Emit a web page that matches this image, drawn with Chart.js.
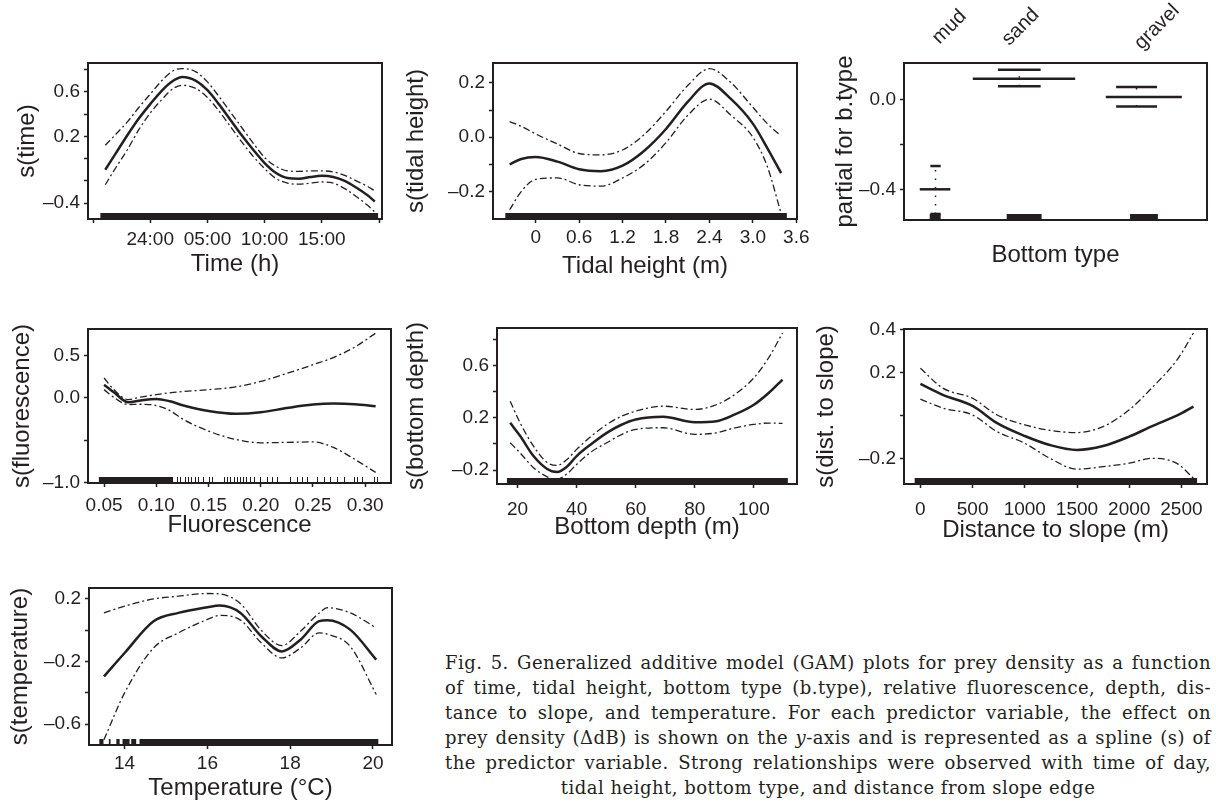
<!DOCTYPE html>
<html>
<head>
<meta charset="utf-8">
<script src="https://cdn.jsdelivr.net/npm/chart.js"></script>
<style>
  body { margin: 0; background: #fff; width: 1216px; height: 806px; position: relative; overflow: hidden; }
  #caption { position: absolute; left: 445px; top: 650px; width: 766px; font-family: "DejaVu Serif", serif;
             font-size: 18px; letter-spacing: 0.5px; line-height: 25px; color: #231f20; }
  #caption .ln { text-align: justify; text-align-last: justify; }
  #caption .last { text-align: center; text-align-last: center; }
</style>
</head>
<body>

<div id="caption">
  <div class="ln">Fig. 5. Generalized additive model (GAM) plots for prey density as a function</div>
  <div class="ln">of time, tidal height, bottom type (b.type), relative fluorescence, depth, dis-</div>
  <div class="ln">tance to slope, and temperature. For each predictor variable, the effect on</div>
  <div class="ln">prey density (ΔdB) is shown on the <i>y</i>-axis and is represented as a spline (s) of</div>
  <div class="ln">the predictor variable. Strong relationships were observed with time of day,</div>
  <div class="ln last">tidal height, bottom type, and distance from slope edge</div>
</div>

<script>
// ---- data ----
// time of day, hours after midnight (24:00 = 0)
const timeX     = [-3.93, -3, -2, -1, 0, 1, 2, 2.8, 4, 5, 6, 7, 8, 9, 10, 11, 12, 13, 14, 15, 16, 17, 18, 19, 19.63];
const timeFit   = [-0.10, 0.05, 0.21, 0.36, 0.49, 0.61, 0.70, 0.735, 0.70, 0.615, 0.49, 0.35, 0.21, 0.08, -0.04, -0.13, -0.175, -0.18, -0.165, -0.155, -0.165, -0.20, -0.26, -0.33, -0.385];
const timeUpper = [0.12, 0.22, 0.33, 0.46, 0.58, 0.70, 0.79, 0.81, 0.78, 0.69, 0.56, 0.42, 0.28, 0.14, 0.01, -0.07, -0.11, -0.115, -0.11, -0.11, -0.12, -0.15, -0.20, -0.25, -0.29];
const timeLower = [-0.235, -0.08, 0.08, 0.26, 0.41, 0.53, 0.63, 0.66, 0.63, 0.55, 0.43, 0.29, 0.15, 0.02, -0.09, -0.18, -0.22, -0.23, -0.22, -0.21, -0.22, -0.27, -0.34, -0.42, -0.48];
const timeTicks  = [-5, 0, 5, 10, 15, 20];
const timeLabels = ['', '24:00', '05:00', '10:00', '15:00', ''];

// tidal height (m)
const tideX     = [-0.36, -0.2, 0, 0.3, 0.6, 0.9, 1.2, 1.5, 1.8, 2.1, 2.4, 2.7, 3.0, 3.2, 3.39];
const tideFit   = [-0.10, -0.08, -0.073, -0.09, -0.118, -0.125, -0.105, -0.05, 0.03, 0.13, 0.198, 0.14, 0.05, -0.04, -0.132];
const tideUpper = [0.057, 0.04, 0.012, -0.025, -0.06, -0.065, -0.047, 0.01, 0.095, 0.19, 0.252, 0.20, 0.11, 0.05, 0.005];
const tideLower = [-0.267, -0.20, -0.155, -0.15, -0.175, -0.18, -0.15, -0.10, -0.02, 0.08, 0.14, 0.08, 0.0, -0.108, -0.28];
const tideTicks  = [0, 0.6, 1.2, 1.8, 2.4, 3.0, 3.6];
const tideLabels = ['0', '0.6', '1.2', '1.8', '2.4', '3.0', '3.6'];

// bottom type (factor, x = share of samples)
const btypeNames    = ['mud', 'sand', 'gravel'];
const btypeStart    = [5.2, 22.7, 66.6];
const btypeEnd      = [15.3, 56.5, 91.7];
const btypeMean     = [-0.40, 0.094, 0.012];
const btypeUpper    = [-0.296, 0.134, 0.057];
const btypeLower    = [-0.51, 0.060, -0.030];
const btypeCiStart  = [8.7, 31.0, 70.0];
const btypeCiEnd    = [12.1, 45.1, 83.5];
const btypeRugStart = [8.5, 33.9, 74.6];
const btypeRugEnd   = [12.1, 45.4, 83.8];
const btypeLabelAt  = [15, 38.5, 83.5];

// relative fluorescence
const fluoX     = [0.05, 0.06, 0.073, 0.085, 0.10, 0.113, 0.126, 0.15, 0.176, 0.20, 0.225, 0.25, 0.27, 0.29, 0.31];
const fluoFit   = [0.156, 0.06, -0.052, -0.03, -0.012, -0.04, -0.09, -0.155, -0.188, -0.17, -0.12, -0.079, -0.067, -0.075, -0.099];
const fluoUpper = [0.235, 0.09, -0.02, 0.01, 0.039, 0.06, 0.075, 0.098, 0.13, 0.195, 0.29, 0.392, 0.48, 0.60, 0.765];
const fluoLower = [0.098, 0.0, -0.078, -0.075, -0.09, -0.15, -0.255, -0.392, -0.49, -0.53, -0.525, -0.52, -0.588, -0.725, -0.88];
const fluoTicks  = [0.05, 0.10, 0.15, 0.20, 0.25, 0.30];
const fluoLabels = ['0.05', '0.10', '0.15', '0.20', '0.25', '0.30'];
const fluoRug    = [0.12, 0.123, 0.127, 0.13, 0.133, 0.137, 0.14, 0.145, 0.15, 0.153,
                    0.165, 0.168, 0.171, 0.174, 0.177, 0.18, 0.183, 0.186, 0.19, 0.194,
                    0.1994, 0.2058, 0.2106, 0.2154, 0.228, 0.2347, 0.2394, 0.2442, 0.2538, 0.2602,
                    0.2666, 0.273, 0.2794, 0.289, 0.2922, 0.297, 0.3082, 0.3114];

// bottom depth (m)
const depthX     = [17.5, 20.9, 25.4, 29.9, 33.3, 36.7, 40, 45, 50.2, 55, 60, 69.3, 80, 87.3, 93, 100, 105, 109.7];
const depthFit   = [0.162, 0.06, -0.093, -0.19, -0.216, -0.175, -0.093, 0.0, 0.085, 0.145, 0.187, 0.208, 0.166, 0.174, 0.22, 0.30, 0.39, 0.493];
const depthUpper = [0.327, 0.16, -0.017, -0.14, -0.165, -0.12, -0.042, 0.06, 0.149, 0.21, 0.251, 0.289, 0.264, 0.30, 0.37, 0.506, 0.66, 0.85];
const depthLower = [0.009, -0.07, -0.182, -0.25, -0.27, -0.23, -0.157, -0.06, 0.009, 0.07, 0.111, 0.124, 0.073, 0.085, 0.12, 0.149, 0.16, 0.157];
const depthTicks  = [20, 40, 60, 80, 100];
const depthLabels = ['20', '40', '60', '80', '100'];

// distance to slope (m)
const distX     = [0, 215, 500, 735, 1000, 1240, 1500, 1750, 2000, 2220, 2460, 2615];
const distFit   = [0.147, 0.096, 0.044, -0.036, -0.096, -0.138, -0.161, -0.143, -0.099, -0.05, 0.0, 0.041];
const distUpper = [0.22, 0.127, 0.08, 0.002, -0.044, -0.07, -0.08, -0.052, 0.026, 0.13, 0.26, 0.384];
const distLower = [0.076, 0.034, 0.002, -0.076, -0.13, -0.20, -0.251, -0.239, -0.223, -0.20, -0.225, -0.293];
const distTicks  = [0, 500, 1000, 1500, 2000, 2500];
const distLabels = ['0', '500', '1000', '1500', '2000', '2500'];

// temperature (°C)
const tempX     = [13.5, 14, 14.7, 15.3, 16, 16.3, 16.8, 17.3, 17.8, 18.25, 18.7, 18.9, 19.45, 20.08];
const tempFit   = [-0.295, -0.145, 0.058, 0.111, 0.147, 0.158, 0.111, -0.038, -0.135, -0.06, 0.058, 0.064, 0.004, -0.188];
const tempUpper = [0.111, 0.154, 0.20, 0.218, 0.235, 0.232, 0.17, 0.0, -0.098, -0.006, 0.11, 0.144, 0.111, 0.015];
const tempLower = [-0.70, -0.40, -0.113, -0.017, 0.069, 0.095, 0.065, -0.08, -0.177, -0.113, -0.017, -0.025, -0.103, -0.41];
const tempTicks  = [14, 16, 18, 20];
const tempLabels = ['14', '16', '18', '20'];

// ---- drawing ----
const TXT = '#231f20';
const FAMILY = '"Liberation Sans", Arial, sans-serif';
const TICK_FONT = { family: FAMILY, size: 19 };
const TITLE_FONT = { family: FAMILY, size: 24 };
const M = '\u2013';

function xy(xs, ys) { return xs.map((x, i) => ({ x: x, y: ys[i] })); }

function fitLine(xs, ys) {
  return { data: xy(xs, ys), borderColor: TXT, borderWidth: 2.5, pointRadius: 0,
           cubicInterpolationMode: 'monotone', fill: false };
}
function ciLine(xs, ys) {
  return { data: xy(xs, ys), borderColor: TXT, borderWidth: 1.3, borderDash: [7, 3, 2, 3],
           pointRadius: 0, cubicInterpolationMode: 'monotone', fill: false };
}
function gamSets(xs, fit, up, lo) { return [ciLine(xs, up), ciLine(xs, lo), fitLine(xs, fit)]; }

// rug, frame and rotated category labels
function decor(p) {
  return {
    id: 'decor',
    afterDatasetsDraw(chart) {
      const ctx = chart.ctx, a = chart.chartArea, xs = chart.scales.x;
      ctx.save();
      ctx.fillStyle = TXT;
      ctx.strokeStyle = TXT;
      (p.rugBands || []).forEach(b => {
        const x0 = xs.getPixelForValue(b[0]), x1 = xs.getPixelForValue(b[1]);
        ctx.fillRect(x0, a.bottom - 6, x1 - x0, 6);
      });
      ctx.lineWidth = 1;
      (p.rugTicks || []).forEach(v => {
        const x = Math.round(xs.getPixelForValue(v)) + 0.5;
        ctx.beginPath(); ctx.moveTo(x, a.bottom - 6); ctx.lineTo(x, a.bottom); ctx.stroke();
      });
      ctx.lineWidth = 2;
      ctx.strokeRect(a.left, a.top, a.right - a.left, a.bottom - a.top);
      if (p.topLabels) {
        ctx.font = '20px ' + FAMILY;
        ctx.textAlign = 'center';
        ctx.textBaseline = 'middle';
        p.topLabels.forEach((name, i) => {
          ctx.save();
          ctx.translate(xs.getPixelForValue(p.topLabelAt[i]), a.top - 36);
          ctx.rotate(-Math.PI / 4);
          ctx.fillText(name, 0, 0);
          ctx.restore();
        });
      }
      ctx.restore();
    }
  };
}

function gamPanel(p) {
  const padTop = p.padTop || 12;
  const padRight = Math.min(24, 1216 - p.box[2]);
  const left = Math.round(p.yTitleX - 14.4);
  const top = p.box[1] - padTop;
  const bottom = Math.round(p.xTitleY + 14.4);
  const width = p.box[2] + padRight - left;
  const height = bottom - top;
  const yw = p.box[0] - left;
  const xh = bottom - p.box[3];
  const xPad = p.xTickY ? p.xTickY - p.box[3] - 4 - 11.4 : 0;

  const cv = document.createElement('canvas');
  cv.width = width; cv.height = height;
  cv.style.cssText = 'position:absolute;left:' + left + 'px;top:' + top + 'px;width:' + width + 'px;height:' + height + 'px';
  document.body.appendChild(cv);

  const hasX = p.xTicks.length > 0;
  new Chart(cv, {
    type: 'line',
    data: { datasets: p.datasets },
    options: {
      responsive: false,
      animation: false,
      devicePixelRatio: 1,
      layout: { padding: { top: padTop, right: padRight, left: 0, bottom: 0 } },
      plugins: { legend: { display: false }, tooltip: { enabled: false } },
      scales: {
        x: {
          type: 'linear', min: p.xMin, max: p.xMax,
          afterBuildTicks: s => { s.ticks = p.xTicks.map(v => ({ value: v })); },
          afterFit: s => { s.height = xh; s.paddingLeft = 0; s.paddingRight = 0; },
          ticks: { display: hasX, autoSkip: false, maxRotation: 0, minRotation: 0, padding: xPad,
                   font: TICK_FONT, color: TXT, callback: (v, i) => p.xLabels[i] },
          grid: { display: hasX, drawOnChartArea: false, tickLength: 4, tickWidth: 1.5, tickColor: TXT },
          border: { display: false },
          title: { display: true, text: p.xTitle, font: TITLE_FONT, color: TXT, padding: 0 }
        },
        y: {
          type: 'linear', min: p.yMin, max: p.yMax,
          afterBuildTicks: s => { s.ticks = p.yTicks.map(v => ({ value: v })); },
          afterFit: s => { s.width = yw; s.paddingTop = 0; s.paddingBottom = 0; },
          ticks: { autoSkip: false, padding: 4, font: TICK_FONT, color: TXT,
                   callback: (v, i) => p.yLabels[i] },
          grid: { drawOnChartArea: false, tickLength: 4, tickWidth: 1.5, tickColor: TXT },
          border: { display: false },
          title: { display: true, text: p.yTitle, font: TITLE_FONT, color: TXT, padding: 0 }
        }
      }
    },
    plugins: [decor(p)]
  });
}

// bottom type segments
const btypeSets = [];
btypeNames.forEach((n, i) => {
  const mid = (btypeCiStart[i] + btypeCiEnd[i]) / 2;
  btypeSets.push({ data: [{ x: mid, y: btypeLower[i] }, { x: mid, y: btypeUpper[i] }], borderColor: TXT,
                   borderWidth: 1.5, borderDash: [1.5, 7], pointRadius: 0 });
  btypeSets.push({ data: [{ x: btypeStart[i], y: btypeMean[i] }, { x: btypeEnd[i], y: btypeMean[i] }],
                   borderColor: TXT, borderWidth: 2.5, pointRadius: 0 });
  btypeSets.push({ data: [{ x: btypeCiStart[i], y: btypeUpper[i] }, { x: btypeCiEnd[i], y: btypeUpper[i] }],
                   borderColor: TXT, borderWidth: 2.5, pointRadius: 0 });
  btypeSets.push({ data: [{ x: btypeCiStart[i], y: btypeLower[i] }, { x: btypeCiEnd[i], y: btypeLower[i] }],
                   borderColor: TXT, borderWidth: 2.5, pointRadius: 0 });
});

gamPanel({
  box: [88, 63, 382, 219], yTitleX: 27, xTickY: 240, xTitleY: 265,
  xMin: -5.44, xMax: 20.26, yMin: -0.543, yMax: 0.86,
  xTicks: timeTicks, xLabels: timeLabels,
  yTicks: [-0.4, -0.2, 0, 0.2, 0.4, 0.6, 0.8], yLabels: [M + '0.4', '', '', '0.2', '', '0.6', ''],
  xTitle: 'Time (h)', yTitle: 's(time)',
  datasets: gamSets(timeX, timeFit, timeUpper, timeLower),
  rugBands: [[-4.36, 19.92]]
});

gamPanel({
  box: [493, 63, 797, 219], yTitleX: 416, xTickY: 238, xTitleY: 267,
  xMin: -0.59, xMax: 3.61, yMin: -0.301, yMax: 0.273,
  xTicks: tideTicks, xLabels: tideLabels,
  yTicks: [-0.2, -0.1, 0, 0.1, 0.2], yLabels: [M + '0.2', '', '0.0', '', '0.2'],
  xTitle: 'Tidal height (m)', yTitle: 's(tidal height)',
  datasets: gamSets(tideX, tideFit, tideUpper, tideLower),
  rugBands: [[-0.42, 3.47]]
});

gamPanel({
  box: [904, 63, 1207, 220], padTop: 63, yTitleX: 845, xTitleY: 256,
  xMin: 0, xMax: 100, yMin: -0.537, yMax: 0.164,
  xTicks: [], xLabels: [],
  yTicks: [-0.4, -0.2, 0], yLabels: [M + '0.4', '', '0.0'],
  xTitle: 'Bottom type', yTitle: 'partial for b.type',
  datasets: btypeSets,
  rugBands: btypeRugStart.map((s, i) => [s, btypeRugEnd[i]]),
  topLabels: btypeNames, topLabelAt: btypeLabelAt
});

gamPanel({
  box: [88, 329, 391, 483], yTitleX: 22, xTickY: 506, xTitleY: 526,
  xMin: 0.0346, xMax: 0.3247, yMin: -1.005, yMax: 0.814,
  xTicks: fluoTicks, xLabels: fluoLabels,
  yTicks: [-1.0, -0.5, 0, 0.5], yLabels: [M + '1.0', '', '0.0', '0.5'],
  xTitle: 'Fluorescence', yTitle: 's(fluorescence)',
  datasets: gamSets(fluoX, fluoFit, fluoUpper, fluoLower),
  rugBands: [[0.045, 0.116]], rugTicks: fluoRug
});

gamPanel({
  box: [497, 328, 797, 484], yTitleX: 416, xTickY: 510, xTitleY: 528,
  xMin: 13.04, xMax: 114.6, yMin: -0.307, yMax: 0.888,
  xTicks: depthTicks, xLabels: depthLabels,
  yTicks: [-0.2, 0, 0.2, 0.4, 0.6, 0.8], yLabels: [M + '0.2', '', '0.2', '', '0.6', ''],
  xTitle: 'Bottom depth (m)', yTitle: 's(bottom depth)',
  datasets: gamSets(depthX, depthFit, depthUpper, depthLower),
  rugBands: [[16.4, 111.5]]
});

gamPanel({
  box: [904, 329, 1207, 484], yTitleX: 826, xTickY: 510, xTitleY: 531,
  xMin: -157, xMax: 2745, yMin: -0.32, yMax: 0.403,
  xTicks: distTicks, xLabels: distLabels,
  yTicks: [-0.2, 0, 0.2, 0.4], yLabels: [M + '0.2', '', '0.2', '0.4'],
  xTitle: 'Distance to slope (m)', yTitle: 's(dist. to slope)',
  datasets: gamSets(distX, distFit, distUpper, distLower),
  rugBands: [[-55, 2650]]
});

gamPanel({
  box: [89, 588, 392, 745], yTitleX: 20, xTickY: 764, xTitleY: 789,
  xMin: 13.14, xMax: 20.46, yMin: -0.733, yMax: 0.27,
  xTicks: tempTicks, xLabels: tempLabels,
  yTicks: [-0.6, -0.4, -0.2, 0, 0.2], yLabels: [M + '0.6', '', M + '0.2', '', '0.2'],
  xTitle: 'Temperature (°C)', yTitle: 's(temperature)',
  datasets: gamSets(tempX, tempFit, tempUpper, tempLower),
  rugBands: [[13.39, 13.49], [13.62, 13.66], [13.8, 13.88], [13.95, 14.12], [14.16, 14.28], [14.36, 20.13]]
});
</script>
</body>
</html>
